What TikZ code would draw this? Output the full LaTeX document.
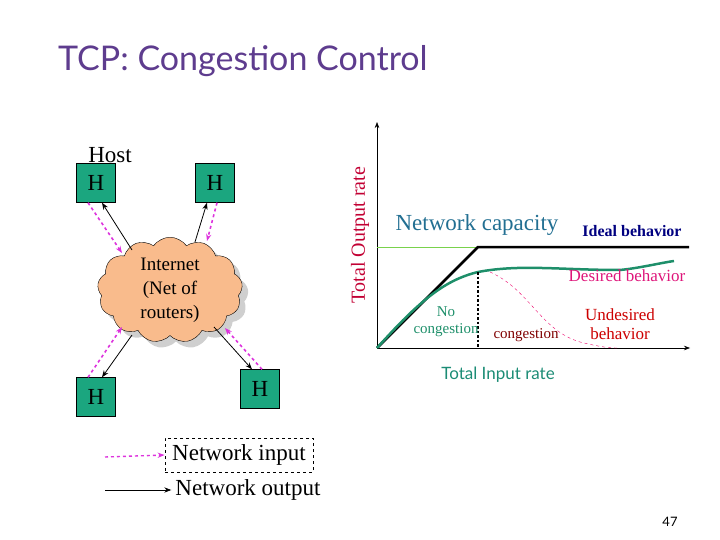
\documentclass[tikz,border=0pt]{standalone}
\usepackage{fontspec}
\setmainfont{Liberation Serif}
\newfontfamily\titlefont{Lato}
\usetikzlibrary{shapes.symbols, arrows.meta, shadows}
\definecolor{hostgreen}{HTML}{1BA67F}
\definecolor{cloudfill}{HTML}{F9BB8C}
\definecolor{titlepurple}{HTML}{5E3C8E}
\definecolor{curvegreen}{HTML}{1E8F6A}
\definecolor{netblue}{HTML}{226F92}
\definecolor{inmagenta}{HTML}{DD33DD}
\tikzset{
  host/.style={draw=black, fill=hostgreen, minimum width=39pt, minimum height=39pt, inner sep=0pt, font=\fontsize{23}{25}\selectfont},
  outarrow/.style={-{Stealth[length=7pt]}, thick},
  inarrow/.style={-{Stealth[length=7pt]}, dashed, inmagenta, line width=1.6pt},
  lbl/.style={align=center, inner sep=0pt}
}
\begin{document}
\begin{tikzpicture}[x=1pt, y=-1pt]
\useasboundingbox (0,0) rectangle (720,540);
\node[lbl, anchor=west, font=\titlefont\fontsize{34}{36}\selectfont, text=titlepurple] (title) at (58,61) {TCP: Congestion Control};

% hosts and cloud
\node[lbl, font=\fontsize{23}{25}\selectfont] (hostlbl) at (110,155) {Host};
\node[host] (h1) at (96,183) {H};
\node[host] (h2) at (215,183) {H};
\node[host] (h3) at (96,397) {H};
\node[host] (h4) at (260,389) {H};
\node[cloud, cloud puffs=13, cloud puff arc=110, aspect=1.5, draw=black, fill=cloudfill,
  minimum width=145pt, minimum height=103pt, inner sep=0pt,
  drop shadow={shadow xshift=6pt, shadow yshift=-6pt, fill=gray!75},
  align=center, font=\fontsize{19}{24}\selectfont] (cloud) at (170,290) {Internet\\(Net of\\routers)};

\coordinate (c1o) at (132,250); \coordinate (c1i) at (122,253);
\coordinate (c2o) at (195,242); \coordinate (c2i) at (207,241);
\coordinate (c3o) at (132,335); \coordinate (c3i) at (122,327);
\coordinate (c4o) at (214,327); \coordinate (c4i) at (225,328);
\draw[outarrow] (c1o) -- ([xshift=6pt]h1.south);
\draw[inarrow] ([xshift=-8pt]h1.south) -- (c1i);
\draw[outarrow] (c2o) -- ([xshift=-8pt]h2.south);
\draw[inarrow] ([xshift=2pt]h2.south) -- (c2i);
\draw[outarrow] (c3o) -- ([xshift=6pt]h3.north);
\draw[inarrow] ([xshift=-8pt]h3.north) -- (c3i);
\draw[outarrow] (c4o) -- ([xshift=-8pt]h4.north);
\draw[inarrow] ([xshift=2pt]h4.north) -- (c4i);

% graph
\coordinate (o) at (377,348);
\coordinate (ytop) at (377,122);
\coordinate (xend) at (690,348);
\coordinate (knee) at (478,247);
\coordinate (capend) at (689,247);
\draw[-{Stealth[length=6pt]}, semithick] (o) -- (ytop);
\draw[-{Stealth[length=6pt]}, semithick] (o) -- (xend);
\node[lbl, rotate=90, text=red!70!black!80!magenta, font=\fontsize{20}{22}\selectfont] (ylabel) at (360,235) {Total Output rate};
\draw[green!50!olive!70, thin] (o |- knee) -- (knee);
\draw[line width=2.5pt] (o) -- (knee) -- (capend);
\draw[curvegreen, line width=2.5pt] (o) .. controls (420,300) and (445,280) .. (478,272)
  .. controls (520,264) and (560,270) .. (620,270) .. controls (640,268) and (660,263) .. (674,261);
\coordinate (dtop) at (478,272);
\draw[line width=2.5pt, dotted] (dtop) -- (dtop |- o);
\draw[magenta!70!red, dashed, thin] (490,272) .. controls (530,290) and (540,330) .. (580,342) .. controls (600,347) and (610,348) .. (617,348);
\node[lbl, text=netblue, font=\fontsize{23}{25}\selectfont] (cap) at (477,225) {Network capacity};
\node[lbl, text=blue!50!black, font=\bfseries\fontsize{16}{18}\selectfont] (ideal) at (632,231) {Ideal behavior};
\node[lbl, text=magenta!70!purple, font=\fontsize{17}{19}\selectfont] (desired) at (627,276) {Desired behavior};
\node[lbl, text=curvegreen, font=\fontsize{15}{17}\selectfont] (nocong) at (446,322) {No\\congestion};
\node[lbl, text=red!50!black, font=\fontsize{15}{17}\selectfont] (cong) at (526,335) {congestion};
\node[lbl, text=red!80!black, font=\fontsize{17}{19}\selectfont] (undes) at (620,324) {Undesired\\behavior};
\node[lbl, text=netblue!80!green, font=\titlefont\fontsize{17}{19}\selectfont] (xlabel) at (498,375) {Total Input rate};

% legend
\node[lbl, draw=black, dashed, thick, inner sep=3pt, minimum width=148pt, minimum height=34pt, font=\fontsize{23}{25}\selectfont] (netin) at (239,455) {Network input};
\node[lbl, font=\fontsize{23}{25}\selectfont] (netout) at (248,490) {Network output};
\coordinate (legin) at (105,457);
\coordinate (legout) at (105,490);
\draw[inarrow, line width=1.4pt] (legin) -- (netin.west);
\draw[outarrow] (legout) -- ([xshift=-4pt]netout.west);
\node[lbl, font=\titlefont\fontsize{13}{15}\selectfont] (page) at (670,522) {47};
\end{tikzpicture}
\end{document}
